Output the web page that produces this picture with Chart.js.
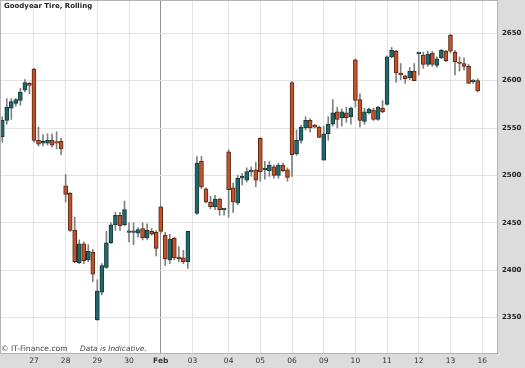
<!DOCTYPE html>
<html>
<head>
<meta charset="utf-8">
<script src="https://cdn.jsdelivr.net/npm/chart.js@4"></script>
<style>
html, body { margin: 0; padding: 0; background: #fff; }
#wrap { width: 525px; height: 368px; position: relative; }
</style>
</head>
<body>
<div id="wrap"><canvas id="chart"></canvas></div>
<script>
// hourly candles, 7 per day (index 42 has no bar)
const open = [
    2541, 2558, 2571, 2576, 2579, 2590, 2597,
    2612, 2537, 2534, 2534, 2537, 2534.5, 2536,
    2489, 2481, 2442, 2408, 2428, 2411, 2419,
    2348, 2377, 2403, 2429, 2448, 2458, 2448,
    2440, 2440, 2439, 2444, 2434, 2441, 2440,
    2467, 2437, 2411, 2434, 2414, 2413, 2409,
    null, 2460, 2515, 2486, 2472, 2467, 2475, 2464,
    2525, 2487, 2471, 2497, 2495, 2504, 2506,
    2539, 2506, 2505, 2509, 2500, 2511, 2506,
    2598, 2523, 2537, 2550, 2558, 2553, 2551,
    2516, 2544, 2554, 2567, 2561, 2566, 2562,
    2622, 2580, 2557, 2566, 2569, 2559, 2571,
    2575, 2625, 2631, 2608, 2605, 2603, 2610,
    2628.5, 2627, 2617, 2629, 2616, 2624, 2631,
    2648, 2630, 2619, 2618, 2615, 2599, 2600
];
const high = [
    2562, 2581, 2581, 2581, 2592, 2601, 2598,
    2613, 2551, 2543, 2544, 2544, 2546, 2539,
    2501, 2482, 2456, 2432, 2430, 2427, 2422,
    2390, 2407, 2441, 2450, 2461, 2461, 2473,
    2450, 2450, 2445, 2450, 2449, 2444, 2442,
    2468, 2440, 2438, 2435, 2425, 2421, 2441,
    null, 2520, 2520, 2487, 2478, 2479, 2476, 2465,
    2527, 2492, 2500, 2502, 2508, 2509, 2514,
    2540, 2515, 2515, 2511, 2513, 2513, 2508,
    2599, 2548, 2553, 2562, 2560, 2554, 2552,
    2552, 2562, 2580, 2572, 2570, 2572, 2572,
    2623, 2586, 2571, 2571, 2571, 2573, 2579,
    2626, 2635, 2632, 2618, 2606, 2614, 2618,
    2629, 2630, 2631, 2631, 2625, 2633, 2632,
    2649, 2632, 2625, 2624, 2617, 2601, 2602
];
const low = [
    2535, 2554, 2559, 2573, 2574, 2588, 2586,
    2535, 2531, 2531, 2532, 2530, 2528, 2522,
    2472, 2441, 2408, 2407, 2407, 2409, 2388,
    2347, 2374, 2402, 2428, 2442, 2442, 2447,
    2430, 2427, 2435, 2432, 2432, 2437, 2415,
    2439, 2405, 2407, 2411, 2409, 2407, 2402,
    null, 2459, 2486, 2471, 2465, 2464, 2458, 2458,
    2456, 2461, 2469, 2490, 2493, 2499, 2488,
    2494, 2496, 2499, 2497, 2497, 2504, 2494,
    2499, 2521, 2534, 2548, 2546, 2550, 2540,
    2516, 2537, 2552, 2550, 2552, 2556, 2554,
    2572, 2551, 2554, 2565, 2558, 2558, 2566,
    2574, 2624, 2598, 2601, 2597, 2601, 2600,
    2606, 2613, 2615, 2615, 2614, 2623, 2620,
    2629, 2606, 2610, 2611, 2597, 2597, 2588
];
const close = [
    2558, 2572, 2578, 2580, 2588, 2598, 2595,
    2537, 2533, 2536, 2537, 2532, 2534, 2528,
    2480, 2442, 2409, 2428, 2410, 2420, 2396,
    2378, 2405, 2429, 2448, 2458, 2447, 2464,
    2440.5, 2440.5, 2443, 2434, 2442, 2438, 2423,
    2441, 2412, 2433, 2413, 2412, 2409, 2441,
    null, 2513, 2488, 2472, 2467, 2475, 2464, 2464.5,
    2485, 2472, 2497, 2499, 2504, 2504.5, 2495,
    2504, 2507, 2511, 2500, 2511, 2505, 2498,
    2522, 2537, 2551, 2558, 2550, 2551, 2540,
    2544, 2554, 2566, 2559, 2567, 2561, 2571,
    2579, 2558, 2567, 2570, 2559, 2572, 2567,
    2625, 2632, 2608, 2606, 2602, 2610, 2600,
    2629, 2617, 2628, 2617, 2623, 2632, 2621,
    2631, 2620, 2618, 2615, 2597, 2600, 2589
];

// axis labels
const dayStarts = [7, 14, 21, 28, 35, 42, 50, 57, 64, 71, 78, 85, 92, 99, 106];
const dayLabels = ['27', '28', '29', '30', 'Feb', '03', '04', '05', '06', '09', '10', '11', '12', '13', '16'];
const yTicks = [2350, 2400, 2450, 2500, 2550, 2600, 2650];
const slotCount = 110;

// colours
const upFill = '#21686d';
const upEdge = '#163a3c';
const downFill = '#c4522a';
const downEdge = '#5a2814';
const wickColor = '#808080';

const slots = [];
for (let i = 0; i < slotCount; i++) slots.push(String(i));

const bodies = open.map((o, i) => o == null ? null : [Math.min(o, close[i]), Math.max(o, close[i])]);
const wicks = low.map((l, i) => l == null ? null : [l, high[i]]);
const isUp = open.map((o, i) => close[i] >= o);

// backgrounds, frame and free texts------------------------------------
const decor = {
    id: 'decor',
    beforeDraw(chart) {
        const c = chart.ctx;
        const a = chart.chartArea;
        c.save();
        c.fillStyle = '#dcdcdc';
        c.fillRect(0, 0, chart.width, chart.height);
        c.fillStyle = '#ffffff';
        c.fillRect(a.left, a.top, a.right - a.left, a.bottom - a.top);
        c.restore();
    },
    afterDraw(chart) {
        const c = chart.ctx;
        const a = chart.chartArea;
        c.save();
        c.strokeStyle = '#b4b4b4';
        c.lineWidth = 1;
        c.strokeRect(a.left + 0.5, a.top + 0.5, a.right - a.left - 1, a.bottom - a.top - 1);

        c.fillStyle = '#222';
        c.textBaseline = 'middle';
        c.font = 'bold 7px "DejaVu Sans"';
        c.fillText('Goodyear Tire, Rolling', 4, 6.5);

        c.fillStyle = '#444';
        c.font = '7.6px "DejaVu Sans"';
        c.fillText('\u00a9 IT-Finance.com', 1, 349);
        c.font = 'italic 7.4px "DejaVu Sans"';
        c.fillText('Data is Indicative.', 80, 349);
        c.restore();
    }
};

new Chart(document.getElementById('chart'), {
    type: 'bar',
    data: {
        labels: slots,
        datasets: [{
            data: bodies,
            backgroundColor: isUp.map(u => u ? upFill : downFill),
            borderColor: isUp.map(u => u ? upEdge : downEdge),
            borderWidth: 1,
            borderSkipped: false,
            barThickness: 4,
            minBarLength: 1.5,
            grouped: false,
            order: 0
        }, {
            data: wicks,
            backgroundColor: wickColor,
            borderWidth: 0,
            barThickness: 1,
            grouped: false,
            order: 1
        }]
    },
    options: {
        responsive: true,
        maintainAspectRatio: false,
        animation: false,
        layout: { padding: 0 },
        plugins: {
            legend: { display: false },
            tooltip: { enabled: false }
        },
        scales: {
            x: {
                type: 'category',
                offset: true,
                border: { display: false },
                grid: {
                    offset: false,
                    drawTicks: false,
                    lineWidth: 1,
                    color: ctx => (ctx.tick && ctx.tick.value === 35) ? '#8f8f8f' : '#e3e3e3'
                },
                ticks: {
                    autoSkip: false,
                    maxRotation: 0,
                    padding: 3,
                    color: '#333',
                    font: ctx => ({
                        family: '"DejaVu Sans"',
                        size: 7.5,
                        weight: (ctx.tick && ctx.tick.value === 35) ? 'bold' : 'normal'
                    }),
                    callback: v => {
                        const k = dayStarts.indexOf(v);
                        return k < 0 ? '' : dayLabels[k];
                    }
                },
                afterBuildTicks: scale => {
                    scale.ticks = dayStarts.map(v => ({ value: v }));
                },
                afterFit: scale => {
                    scale.height = 14;
                    scale.paddingLeft = 0;
                    scale.paddingRight = 0;
                }
            },
            y: {
                type: 'linear',
                position: 'right',
                min: 2311.7,
                max: 2685,
                border: { display: false },
                grid: { color: '#e3e3e3', drawTicks: false },
                ticks: {
                    padding: 4,
                    color: '#222',
                    font: { family: '"DejaVu Sans"', size: 7, weight: 'bold' },
                    callback: v => String(v)
                },
                afterBuildTicks: scale => {
                    scale.ticks = yTicks.map(v => ({ value: v }));
                },
                afterFit: scale => {
                    scale.width = 27;
                    scale.paddingTop = 0;
                    scale.paddingBottom = 0;
                }
            }
        }
    },
    plugins: [decor]
});
</script>
</body>
</html>
